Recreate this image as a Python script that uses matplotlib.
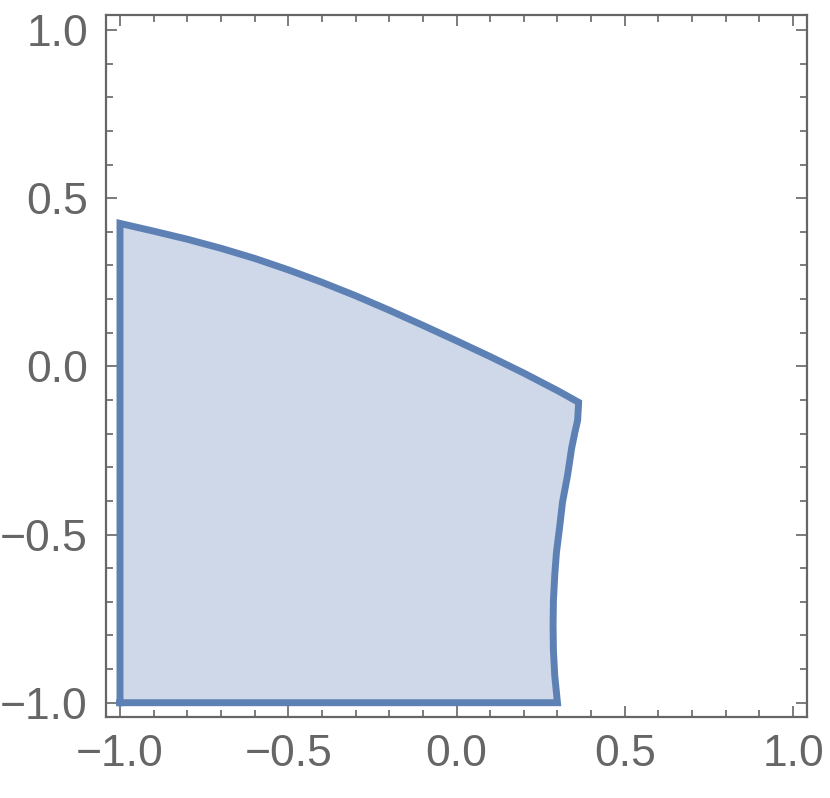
import numpy as np
import matplotlib.pyplot as plt

# boundary of the region
top_x = [-1.0, -0.9, -0.8, -0.7, -0.6, -0.5, -0.4, -0.3, -0.2, -0.1, 0.0, 0.1, 0.2, 0.3, 0.363]
top_y = [0.425, 0.402, 0.378, 0.351, 0.321, 0.287, 0.250, 0.210, 0.167, 0.122, 0.076, 0.029, -0.020, -0.072, -0.107]
right_x = [0.363, 0.360, 0.351, 0.342, 0.330, 0.315, 0.306, 0.297, 0.292, 0.288, 0.287, 0.288, 0.292, 0.300]
right_y = [-0.107, -0.160, -0.200, -0.244, -0.324, -0.404, -0.482, -0.553, -0.620, -0.696, -0.770, -0.845, -0.920, -1.0]

edge = (0.368417, 0.506779, 0.709798)
gray = '#666666'

plt.rcParams['font.family'] = ['Liberation Sans', 'DejaVu Sans']

fig = plt.figure(figsize=(8.3, 7.98), dpi=100)
ax = fig.add_axes([0.1277, 0.1015, 0.8446, 0.8797])

xs = [-1.0] + top_x + right_x[1:] + [-1.0]
ys = [-1.0] + top_y + right_y[1:] + [-1.0]
ax.fill(xs, ys, facecolor=edge, alpha=0.3, edgecolor='none')
ax.plot(xs, ys, color=edge, lw=5, solid_joinstyle='miter')

ax.set_xlim(-1.0416, 1.0416)
ax.set_ylim(-1.0425, 1.0446)

ax.set_xticks([-1.0, -0.5, 0.0, 0.5, 1.0])
ax.set_yticks([-1.0, -0.5, 0.0, 0.5, 1.0])
ax.set_xticks(np.arange(-1.0, 1.01, 0.1), minor=True)
ax.set_yticks(np.arange(-1.0, 1.01, 0.1), minor=True)
ax.set_xticklabels(['\u22121.0', '\u22120.5', '0.0', '0.5', '1.0'])
ax.set_yticklabels(['\u22121.0', '\u22120.5', '0.0', '0.5', '1.0'])

ax.tick_params(which='both', direction='in', top=True, right=True,
               color=gray, width=1.2, labelcolor=gray, labelsize=32)
ax.tick_params(which='major', length=8)
ax.tick_params(which='minor', length=5)
ax.tick_params(axis='x', pad=12)
ax.tick_params(axis='y', pad=13)

for s in ax.spines.values():
    s.set_color(gray)
    s.set_linewidth(1.6)

plt.savefig('out.png', dpi=100)
